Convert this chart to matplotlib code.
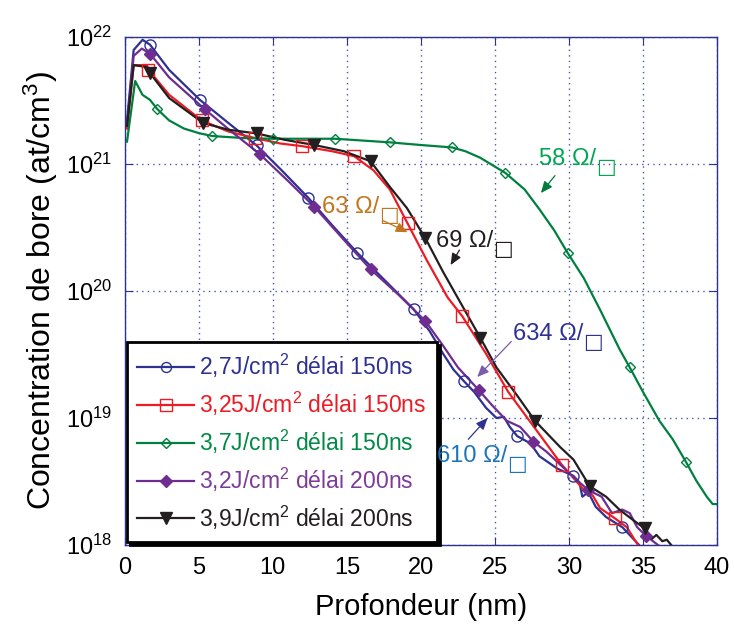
import matplotlib
matplotlib.use('Agg')
import matplotlib.pyplot as plt
from matplotlib.lines import Line2D

plt.rcParams['font.family'] = ['Liberation Sans', 'DejaVu Sans']
plt.rcParams['mathtext.fontset'] = 'custom'
plt.rcParams['mathtext.rm'] = 'Liberation Sans'
plt.rcParams['mathtext.it'] = 'Liberation Sans:italic'
plt.rcParams['mathtext.bf'] = 'Liberation Sans:bold'
plt.rcParams['mathtext.default'] = 'regular'

# ---- data: depth (nm) and boron concentration (at/cm3) ----
blue_x = [0.15, 0.6, 1.2, 1.7, 3.0, 5.07, 7.0, 8.9, 10.6, 12.4, 14.0, 15.7, 17.6, 19.5, 20.6, 21.5,
          22.2, 22.9, 23.6, 24.4, 25.1, 25.6, 26.0, 26.5, 27.4, 28.0, 29.2, 30.3, 30.7, 30.9, 31.3,
          31.8, 32.5, 33.6, 34.8]
blue_y = [2.2e21, 7.9e21, 9.5e21, 8.7e21, 5.5e21, 3.2e21, 2.1e21, 1.4e21, 8.9e20, 5.4e20, 3.3e20,
          2.0e20, 1.2e20, 7.2e19, 4.8e19, 3.2e19, 2.4e19, 1.95e19, 1.6e19, 1.2e19, 1.0e19, 1.02e19,
          8.5e18, 7.2e18, 6.3e18, 5.0e18, 4.0e18, 3.5e18, 3.1e18, 2.4e18, 2.6e18, 2.0e18, 1.66e18,
          1.38e18, 9.8e17]
blue_mx = [1.7, 5.07, 8.9, 12.4, 15.7, 19.5, 22.9, 26.5, 30.3, 33.6]
blue_my = [8.7e21, 3.2e21, 1.4e21, 5.4e20, 2.0e20, 7.2e19, 1.95e19, 7.2e18, 3.5e18, 1.38e18]

red_x = [0.15, 0.6, 1.5, 1.6, 3.0, 5.2, 7.0, 8.8, 10.5, 12.0, 14.0, 15.5, 16.8, 17.9, 19.1, 20.4,
         21.8, 22.8, 24.4, 25.9, 27.7, 29.5, 30.9, 31.6, 32.1, 33.1, 33.9, 34.7]
red_y = [1.9e21, 6.0e21, 6.0e21, 5.5e21, 3.5e21, 2.2e21, 1.8e21, 1.6e21, 1.45e21, 1.38e21, 1.26e21,
         1.15e21, 8.9e20, 6.3e20, 3.4e20, 1.74e20, 8.9e19, 6.3e19, 3.2e19, 1.6e19, 8.3e18, 4.3e18,
         2.8e18, 2.45e18, 1.95e18, 1.62e18, 1.38e18, 9.8e17]
red_mx = [1.6, 5.2, 8.8, 12.0, 15.5, 19.1, 22.8, 25.9, 29.5, 33.1]
red_my = [5.5e21, 2.2e21, 1.6e21, 1.38e21, 1.15e21, 3.4e20, 6.3e19, 1.6e19, 4.3e18, 1.62e18]

green_x = [0.15, 0.7, 1.2, 1.7, 2.2, 3.0, 4.0, 5.0, 5.9, 8.0, 10.0, 14.2, 17.9, 20.0, 22.1, 23.0,
           24.0, 25.7, 27.0, 28.0, 29.0, 29.9, 31.0, 32.1, 33.4, 34.1, 35.0, 36.1, 37.0, 37.9, 38.6,
           39.3, 39.7, 40.0]
green_y = [1.5e21, 4.5e21, 3.5e21, 3.2e21, 2.7e21, 2.2e21, 1.9e21, 1.75e21, 1.66e21, 1.6e21, 1.58e21,
           1.58e21, 1.48e21, 1.41e21, 1.35e21, 1.26e21, 1.12e21, 8.5e20, 6.3e20, 4.4e20, 3.0e20,
           2.0e20, 1.26e20, 7.1e19, 3.5e19, 2.5e19, 1.6e19, 9.5e18, 6.8e18, 4.5e18, 3.2e18, 2.4e18,
           2.1e18, 2.1e18]
green_mx = [2.2, 5.9, 10.0, 14.2, 17.9, 22.1, 25.7, 29.9, 34.1, 37.9]
green_my = [2.7e21, 1.66e21, 1.58e21, 1.58e21, 1.48e21, 1.35e21, 8.5e20, 2.0e20, 2.5e19, 4.5e18]

purple_x = [0.15, 0.6, 1.15, 1.7, 3.0, 5.4, 7.2, 9.1, 11.0, 12.8, 14.7, 16.6, 18.5, 20.3, 21.5,
            22.5, 23.9, 24.8, 25.8, 26.7, 27.6, 28.5, 30.1, 31.3, 32.2, 32.9, 33.6, 34.1, 34.6,
            35.2, 36.1]
purple_y = [2.0e21, 7.1e21, 8.1e21, 7.4e21, 4.8e21, 2.7e21, 1.8e21, 1.2e21, 7.4e20, 4.6e20, 2.6e20,
            1.48e20, 9.3e19, 5.8e19, 3.7e19, 2.5e19, 1.66e19, 1.26e19, 9.5e18, 8.5e18, 6.5e18,
            5.4e18, 3.6e18, 2.7e18, 2.4e18, 1.78e18, 1.9e18, 1.78e18, 1.38e18, 1.18e18, 9.8e17]
purple_mx = [1.7, 5.4, 9.1, 12.8, 16.6, 20.3, 23.9, 27.6, 31.3, 35.2]
purple_my = [7.4e21, 2.7e21, 1.2e21, 4.6e20, 1.48e20, 5.8e19, 1.66e19, 6.5e18, 2.7e18, 1.18e18]

black_x = [0.15, 0.6, 1.5, 1.7, 3.0, 5.3, 7.0, 8.9, 10.8, 12.8, 14.8, 16.6, 17.9, 19.05, 20.3, 21.5,
           22.8, 24.0, 25.1, 26.5, 27.7, 29.4, 30.3, 31.4, 32.5, 33.4, 34.3, 35.1, 35.6, 35.9, 36.3,
           36.6, 36.9]
black_y = [2.0e21, 6.0e21, 5.8e21, 5.2e21, 3.3e21, 2.1e21, 1.86e21, 1.74e21, 1.55e21, 1.41e21,
           1.26e21, 1.05e21, 6.6e20, 4.5e20, 2.6e20, 1.41e20, 7.6e19, 4.3e19, 2.5e19, 1.5e19,
           9.5e18, 5.9e18, 4.7e18, 2.9e18, 2.4e18, 1.9e18, 1.58e18, 1.35e18, 1.12e18, 1.2e18,
           1.07e18, 1.1e18, 1.0e18]
black_mx = [1.7, 5.3, 8.9, 12.8, 16.6, 20.3, 24.0, 27.7, 31.4, 35.1]
black_my = [5.2e21, 2.1e21, 1.74e21, 1.41e21, 1.05e21, 2.6e20, 4.3e19, 9.5e18, 2.9e18, 1.35e18]

labels = ['2,7J/cm$^2$ délai 150ns', '3,25J/cm$^2$ délai 150ns', '3,7J/cm$^2$ délai 150ns',
          '3,2J/cm$^2$ délai 200ns', '3,9J/cm$^2$ délai 200ns']

# sheet resistance notes: text, text position, arrow start, arrow tip
notes = ['58 Ω/', '63 Ω/', '69 Ω/', '634 Ω/', '610 Ω/']
note_pos = [(28.0, 9.8e20), (13.3, 4.1e20), (21.0, 2.2e20), (26.2, 4.1e19), (21.1, 4.5e18)]
arrow_from = [(29.05, 8.1e20), (17.4, 3.6e20), (22.6, 2.1e20), (26.1, 4.0e19), (23.2, 6.8e18)]
arrow_to = [(28.1, 5.9e20), (19.1, 2.9e20), (22.0, 1.6e20), (23.8, 2.1e19), (24.5, 1.0e19)]

# ---- styling ----
line_colors = ['#2e3192', '#ed1c24', '#00803f', '#6f2c91', '#231f20']
label_colors = ['#2e3192', '#ed1c24', '#008a45', '#7d3c98', '#231f20']
note_colors = ['#00a651', '#c2761b', '#231f20', '#2e3192', '#1c75bc']
arrow_colors = ['#007a3d', '#c2761b', '#231f20', '#7a5ca8', '#2e3192']
axis_blue = '#2e3192'

fig = plt.figure(figsize=(7.34, 6.32), dpi=100)
ax = fig.add_axes([0.170, 0.1377, 0.807, 0.8038])

series = [
    (blue_x, blue_y, blue_mx, blue_my, 'o', 'none'),
    (red_x, red_y, red_mx, red_my, 's', 'none'),
    (green_x, green_y, green_mx, green_my, 'D', 'none'),
    (purple_x, purple_y, purple_mx, purple_my, 'D', 'full'),
    (black_x, black_y, black_mx, black_my, 'v', 'full'),
]
msizes = [8, 9, 5.5, 6.5, 9]

handles = []
for (x, y, mx, my, mk, fill), c, ms in zip(series, line_colors, msizes):
    ax.plot(x, y, color=c, linewidth=1.6, zorder=3)
    mfc = 'none' if fill == 'none' else c
    ax.plot(mx, my, linestyle='none', marker=mk, markersize=ms, markerfacecolor=mfc,
            markeredgecolor=c, markeredgewidth=1.0, zorder=4)
    handles.append(Line2D([], [], color=c, linewidth=1.6, marker=mk, markersize=ms * 0.9,
                          markerfacecolor=mfc, markeredgecolor=c))

for txt, pos, a0, a1, tc, ac in zip(notes, note_pos, arrow_from, arrow_to, note_colors, arrow_colors):
    t = ax.text(pos[0], pos[1], txt, color=tc, fontsize=17, ha='left', va='baseline', zorder=12)
    ax.annotate('□', xy=(1.0, 0.0), xycoords=t, xytext=(0, -5), textcoords='offset points',
                ha='left', va='bottom', color=tc, fontsize=15, family='DejaVu Sans', zorder=12)
    ax.annotate('', xy=a1, xytext=a0,
                arrowprops=dict(arrowstyle='-|>,head_length=0.7,head_width=0.3', color=ac,
                                linewidth=0.9, shrinkA=0, shrinkB=0), zorder=12)

ax.set_yscale('log')
ax.set_xlim(0, 40)
ax.set_ylim(1e18, 1e22)
ax.set_xticks(range(0, 41, 5))
ax.set_yticks([1e18, 1e19, 1e20, 1e21, 1e22])
ax.minorticks_off()

ax.grid(True, which='major', linestyle=(0, (1, 3)), color='#4a55b0', linewidth=1.0)
for sp in ax.spines.values():
    sp.set_color(axis_blue)
    sp.set_linewidth(1.0)
ax.tick_params(direction='in', length=6, color=axis_blue, labelcolor='black', labelsize=17,
               top=True, right=True, pad=9)

ax.set_xlabel('Profondeur (nm)', fontsize=21, labelpad=10)
ax.set_ylabel('Concentration de bore (at/cm$^3$)', fontsize=23, labelpad=4)

leg = ax.legend(handles, labels, loc='lower left', bbox_to_anchor=(0.004, 0.006), fontsize=16.5,
                frameon=True, fancybox=False, edgecolor='black', framealpha=1,
                shadow={'color': 'black', 'alpha': 1}, labelcolor=label_colors,
                handlelength=2.45, handletextpad=0.25, labelspacing=0.42, borderpad=0.45,
                borderaxespad=0)
leg.get_frame().set_linewidth(2.0)
leg.set_zorder(10)

fig.savefig('out.png', dpi=100)
